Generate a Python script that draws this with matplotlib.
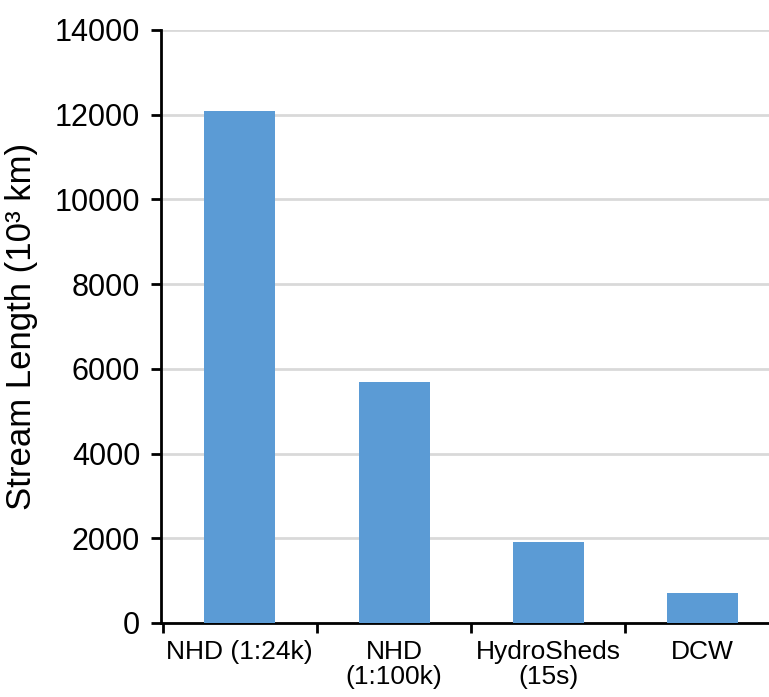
import numpy as np
import matplotlib
matplotlib.use('Agg')
import matplotlib.pyplot as plt

plt.rcParams['font.family'] = ['Liberation Sans', 'DejaVu Sans']

categories = ['NHD (1:24k)', 'NHD\n(1:100k)', 'HydroSheds\n(15s)', 'DCW']
lengths = [12080, 5700, 1900, 700]
y_ticks = [0, 2000, 4000, 6000, 8000, 10000, 12000, 14000]

fig = plt.figure(figsize=(7.69, 6.97), dpi=100)
ax = fig.add_axes([0.2094, 0.1062, 0.7906, 0.8508])

x = np.arange(len(categories))
ax.bar(x, lengths, width=0.46, color='#5b9bd5', zorder=3)

ax.set_xlim(-0.51, 3.43)
ax.set_ylim(0, 14000)
ax.set_yticks(y_ticks)
ax.set_yticklabels([str(v) for v in y_ticks], fontsize=22)
ax.yaxis.grid(True, color='#d9d9d9', linewidth=2, zorder=0)

# labels at centres, ticks at category boundaries
ax.set_xticks(x)
ax.set_xticklabels(categories, fontsize=19, linespacing=1.05)
ax.set_xticks(np.arange(-0.5, len(categories) - 0.5, 1.0), minor=True)
ax.tick_params(axis='x', which='major', length=0, pad=12)
ax.tick_params(axis='x', which='minor', length=7, width=2, direction='out')
ax.tick_params(axis='y', length=7, width=2, direction='out', pad=8)

ax.spines['top'].set_visible(False)
ax.spines['right'].set_visible(False)
ax.spines['left'].set_linewidth(2)
ax.spines['bottom'].set_linewidth(2)

ax.set_ylabel('Stream Length (10³ km)', fontsize=25, labelpad=12)

plt.savefig('out.png', dpi=100)
